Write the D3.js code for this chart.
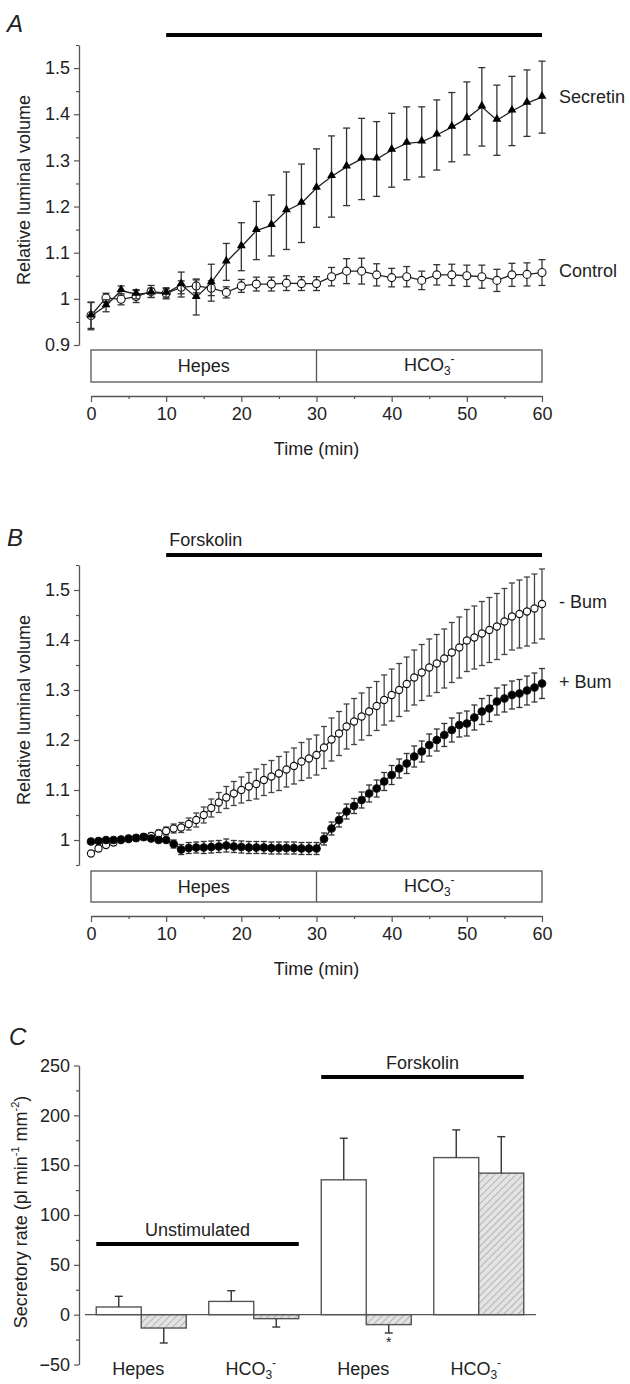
<!DOCTYPE html>
<html>
<head>
<meta charset="utf-8">
<script src="https://cdn.jsdelivr.net/npm/d3@7"></script>
<style>
    body { margin: 0; background: #fff; }
    svg { font-family: Arial, "Liberation Sans", sans-serif; }
</style>
</head>
<body>
<svg id="mainSvg" width="630" height="1384"></svg>
<script>
// * Panel A: secretin vs control, sampled every 2 min
let timeA = [0, 2, 4, 6, 8, 10, 12, 14, 16, 18, 20, 22, 24, 26, 28, 30,
    32, 34, 36, 38, 40, 42, 44, 46, 48, 50, 52, 54, 56, 58, 60]
let secretin = [0.963, 0.985, 1.018, 1.010, 1.013, 1.012, 1.031, 1.003, 1.035, 1.080, 1.113, 1.148, 1.159, 1.191, 1.207, 1.240,
    1.265, 1.286, 1.303, 1.303, 1.322, 1.337, 1.340, 1.355, 1.372, 1.391, 1.416, 1.387, 1.407, 1.424, 1.437]
let secretinErr = [0.030, 0.013, 0.010, 0.010, 0.010, 0.010, 0.027, 0.038, 0.040, 0.040, 0.052, 0.063, 0.066, 0.084, 0.085, 0.085,
    0.088, 0.084, 0.088, 0.081, 0.080, 0.079, 0.076, 0.076, 0.075, 0.079, 0.085, 0.076, 0.075, 0.072, 0.078]
let control = [0.964, 1.002, 0.999, 1.005, 1.016, 1.012, 1.025, 1.028, 1.023, 1.014, 1.028, 1.032, 1.032, 1.034, 1.033, 1.033,
    1.048, 1.060, 1.060, 1.052, 1.046, 1.048, 1.040, 1.052, 1.052, 1.050, 1.048, 1.040, 1.052, 1.053, 1.057]
let controlErr = [0.028, 0.010, 0.012, 0.013, 0.013, 0.012, 0.014, 0.015, 0.016, 0.012, 0.014, 0.015, 0.015, 0.016, 0.015, 0.015,
    0.020, 0.027, 0.028, 0.024, 0.020, 0.022, 0.020, 0.022, 0.023, 0.023, 0.025, 0.024, 0.025, 0.025, 0.028]

// * Panel B: forskolin without / with bumetanide, sampled every min
let timeB = [0, 1, 2, 3, 4, 5, 6, 7, 8, 9, 10, 11, 12, 13, 14, 15, 16, 17, 18, 19, 20,
    21, 22, 23, 24, 25, 26, 27, 28, 29, 30, 31, 32, 33, 34, 35, 36, 37, 38, 39, 40,
    41, 42, 43, 44, 45, 46, 47, 48, 49, 50, 51, 52, 53, 54, 55, 56, 57, 58, 59, 60]
let minusBum = [0.973, 0.983, 0.990, 0.995, 1.000, 1.002, 1.004, 1.006, 1.008, 1.013, 1.018,
    1.023, 1.025, 1.032, 1.040, 1.050, 1.064, 1.075, 1.085, 1.093, 1.100,
    1.107, 1.112, 1.120, 1.127, 1.133, 1.141, 1.148, 1.157, 1.163, 1.170,
    1.185, 1.201, 1.213, 1.227, 1.237, 1.247, 1.257, 1.268, 1.280, 1.290,
    1.300, 1.312, 1.325, 1.335, 1.345, 1.353, 1.363, 1.375, 1.385, 1.399,
    1.405, 1.413, 1.420, 1.427, 1.437, 1.447, 1.452, 1.457, 1.463, 1.472]
let minusBumErr = [0.005, 0.005, 0.005, 0.005, 0.005, 0.005, 0.006, 0.006, 0.006, 0.007, 0.008,
    0.009, 0.010, 0.012, 0.014, 0.016, 0.018, 0.020, 0.022, 0.024, 0.026,
    0.028, 0.030, 0.031, 0.032, 0.034, 0.035, 0.036, 0.038, 0.039, 0.040,
    0.042, 0.043, 0.044, 0.045, 0.046, 0.047, 0.048, 0.049, 0.050, 0.052,
    0.053, 0.054, 0.055, 0.056, 0.057, 0.058, 0.059, 0.060, 0.061, 0.062,
    0.063, 0.064, 0.065, 0.066, 0.066, 0.067, 0.068, 0.069, 0.069, 0.070]
let plusBum = [0.997, 0.998, 1.000, 1.000, 1.001, 1.003, 1.004, 1.006, 1.003, 1.000, 1.000,
    0.992, 0.981, 0.984, 0.985, 0.985, 0.986, 0.987, 0.989, 0.987, 0.986,
    0.985, 0.985, 0.985, 0.984, 0.984, 0.984, 0.984, 0.983, 0.983, 0.983,
    1.002, 1.023, 1.040, 1.057, 1.068, 1.080, 1.093, 1.103, 1.117, 1.130,
    1.143, 1.153, 1.167, 1.177, 1.190, 1.200, 1.210, 1.220, 1.230, 1.233,
    1.245, 1.257, 1.263, 1.277, 1.283, 1.290, 1.293, 1.299, 1.305, 1.313]
let plusBumErr = [0.004, 0.004, 0.004, 0.004, 0.004, 0.004, 0.004, 0.004, 0.004, 0.004, 0.005,
    0.008, 0.010, 0.011, 0.011, 0.012, 0.012, 0.012, 0.013, 0.012, 0.012,
    0.012, 0.012, 0.012, 0.012, 0.012, 0.012, 0.012, 0.012, 0.012, 0.012,
    0.012, 0.013, 0.014, 0.015, 0.015, 0.016, 0.017, 0.017, 0.018, 0.019,
    0.019, 0.020, 0.021, 0.021, 0.022, 0.022, 0.023, 0.024, 0.024, 0.025,
    0.025, 0.026, 0.026, 0.027, 0.027, 0.028, 0.028, 0.029, 0.029, 0.030]

// * Panel C: secretory rates
let groupsC = ['Hepes', 'HCO3', 'Hepes', 'HCO3']
let openC = [7.7, 13.3, 135.3, 157.6]
let openCErr = [10.7, 10.7, 41.7, 27.8]
let hatchC = [-13.4, -4.0, -10.0, 142.0]
let hatchCErr = [15.0, 8.4, 8.4, 36.6]
let starC = ['', '', '*', '']

let xTicks = [0, 10, 20, 30, 40, 50, 60]
let xMinor = [5, 15, 25, 35, 45, 55]

let svg = d3.select('#mainSvg')
let defs = svg.append('defs')

let axisColor = '#555'
let ink = '#222'
let fontSize = 18

// hatch pattern for the bumetanide bars
let pat = defs.append('pattern')
    .attr('id', 'hatch')
    .attr('patternUnits', 'userSpaceOnUse')
    .attr('width', 5)
    .attr('height', 5)
    .attr('patternTransform', 'rotate(45)')
pat.append('rect').attr('width', 5).attr('height', 5).attr('fill', '#e3e3e3')
pat.append('line')
    .attr('x1', 0).attr('y1', 0).attr('x2', 0).attr('y2', 5)
    .attr('stroke', '#a0a0a0').attr('stroke-width', 1.4)

let styleAxis = function (g) {
    g.attr('font-size', fontSize).attr('font-family', null)
    g.select('.domain').attr('stroke', axisColor).attr('stroke-width', 1.3)
    g.selectAll('.tick line').attr('stroke', axisColor).attr('stroke-width', 1.2)
    g.selectAll('.tick text').attr('fill', ink)
}

let hco3 = function (t) {
    t.append('tspan').text('HCO')
    t.append('tspan').attr('font-size', 12).attr('dy', 4).text('3')
    t.append('tspan').attr('font-size', 12).attr('dy', -12).text('-')
}

let drawSeries = function (g, x, y, times, vals, errs, opt) {
    let pts = times.map(function (t, i) { return { t: t, v: vals[i], e: errs[i] } })
    let eb = g.append('g').attr('stroke', opt.errColor).attr('stroke-width', 1.3)
    eb.selectAll('line.bar').data(pts).enter().append('line')
        .attr('x1', d => x(d.t)).attr('x2', d => x(d.t))
        .attr('y1', d => y(d.v - d.e)).attr('y2', d => y(d.v + d.e))
    eb.selectAll('line.capTop').data(pts).enter().append('line')
        .attr('x1', d => x(d.t) - opt.cap).attr('x2', d => x(d.t) + opt.cap)
        .attr('y1', d => y(d.v + d.e)).attr('y2', d => y(d.v + d.e))
    eb.selectAll('line.capBot').data(pts).enter().append('line')
        .attr('x1', d => x(d.t) - opt.cap).attr('x2', d => x(d.t) + opt.cap)
        .attr('y1', d => y(d.v - d.e)).attr('y2', d => y(d.v - d.e))

    g.append('path')
        .datum(pts)
        .attr('d', d3.line().x(d => x(d.t)).y(d => y(d.v)))
        .attr('fill', 'none')
        .attr('stroke', ink)
        .attr('stroke-width', 1.3)

    if (opt.shape === 'triangle') {
        g.append('g').selectAll('path').data(pts).enter().append('path')
            .attr('d', d3.symbol(d3.symbolTriangle, 34))
            .attr('transform', d => 'translate(' + x(d.t) + ',' + (y(d.v) - 1) + ')')
            .attr('fill', '#000')
    } else {
        g.append('g').selectAll('circle').data(pts).enter().append('circle')
            .attr('cx', d => x(d.t)).attr('cy', d => y(d.v))
            .attr('r', opt.r)
            .attr('fill', opt.fill)
            .attr('stroke', '#111')
            .attr('stroke-width', 1.1)
    }
}

let drawTimePanel = function (p) {
    let x = d3.scaleLinear().domain([0, 60]).range([91, 542])
    let y = d3.scaleLinear().domain(p.yDomain).range([p.yBottom, p.yTop])
    let g = svg.append('g')

    g.append('text')
        .attr('x', 7).attr('y', p.letterY)
        .attr('font-size', 24).attr('font-style', 'italic').attr('fill', ink)
        .text(p.letter)

    // treatment bar
    g.append('line')
        .attr('x1', x(10)).attr('x2', x(60))
        .attr('y1', p.barY).attr('y2', p.barY)
        .attr('stroke', '#000').attr('stroke-width', 4)
    if (p.barLabel) {
        g.append('text')
            .attr('x', x(10) + 3).attr('y', p.barY - 9)
            .attr('font-size', fontSize).attr('fill', ink)
            .text(p.barLabel)
    }

    // y axis, major + minor ticks
    g.append('g').attr('transform', 'translate(79,0)')
        .call(d3.axisLeft(y).tickValues(p.yTicks).tickFormat(d3.format('~g'))
            .tickSize(5).tickSizeOuter(0).tickPadding(4))
        .call(styleAxis)
    g.append('g').attr('transform', 'translate(79,0)')
        .call(d3.axisLeft(y).tickValues(p.yMinor).tickFormat('').tickSize(3).tickSizeOuter(0))
        .call(styleAxis)
        .call(a => a.select('.domain').remove())

    g.append('text')
        .attr('transform', 'translate(24,' + ((p.yTop + p.yBottom) / 2 - 5) + ') rotate(-90)')
        .attr('text-anchor', 'middle').attr('dominant-baseline', 'central')
        .attr('font-size', fontSize).attr('fill', ink)
        .text('Relative luminal volume')

    // bath solution box
    let box = g.append('g')
    box.append('rect')
        .attr('x', x(0)).attr('y', p.boxTop)
        .attr('width', x(60) - x(0)).attr('height', p.boxH)
        .attr('fill', '#fff').attr('stroke', axisColor).attr('stroke-width', 1.3)
    box.append('line')
        .attr('x1', x(30)).attr('x2', x(30))
        .attr('y1', p.boxTop).attr('y2', p.boxTop + p.boxH)
        .attr('stroke', axisColor).attr('stroke-width', 1.3)
    box.append('text')
        .attr('x', (x(0) + x(30)) / 2).attr('y', p.boxTop + p.boxH / 2 + 6)
        .attr('text-anchor', 'middle').attr('font-size', fontSize).attr('fill', ink)
        .text('Hepes')
    box.append('text')
        .attr('x', (x(30) + x(60)) / 2).attr('y', p.boxTop + p.boxH / 2 + 5)
        .attr('text-anchor', 'middle').attr('font-size', fontSize).attr('fill', ink)
        .call(hco3)

    // x axis
    g.append('g').attr('transform', 'translate(0,' + p.xAxisY + ')')
        .call(d3.axisBottom(x).tickValues(xTicks).tickSize(6).tickSizeOuter(0).tickPadding(5))
        .call(styleAxis)
    g.append('g').attr('transform', 'translate(0,' + p.xAxisY + ')')
        .call(d3.axisBottom(x).tickValues(xMinor).tickFormat('').tickSize(3).tickSizeOuter(0))
        .call(styleAxis)
        .call(a => a.select('.domain').remove())
    g.append('text')
        .attr('x', (x(0) + x(60)) / 2).attr('y', p.xAxisY + 59)
        .attr('text-anchor', 'middle').attr('font-size', fontSize).attr('fill', ink)
        .text('Time (min)')

    p.series.forEach(function (s) {
        drawSeries(g, x, y, s.times, s.vals, s.errs, s.opt)
    })
    p.labels.forEach(function (l) {
        g.append('text')
            .attr('x', 559).attr('y', l.y)
            .attr('font-size', fontSize).attr('fill', ink)
            .text(l.text)
    })
}

drawTimePanel({
    letter: 'A', letterY: 32,
    barY: 35, barLabel: null,
    yDomain: [0.9, 1.55], yTop: 45, yBottom: 345,
    yTicks: [0.9, 1.0, 1.1, 1.2, 1.3, 1.4, 1.5],
    yMinor: [0.95, 1.05, 1.15, 1.25, 1.35, 1.45, 1.55],
    boxTop: 350, boxH: 32, xAxisY: 396,
    series: [
        { times: timeA, vals: control, errs: controlErr, opt: { errColor: '#333', cap: 3.5, shape: 'circle', r: 4, fill: '#fff' } },
        { times: timeA, vals: secretin, errs: secretinErr, opt: { errColor: '#333', cap: 3.5, shape: 'triangle' } }
    ],
    labels: [{ text: 'Secretin', y: 103 }, { text: 'Control', y: 277 }]
})

drawTimePanel({
    letter: 'B', letterY: 546,
    barY: 555, barLabel: 'Forskolin',
    yDomain: [0.95, 1.55], yTop: 565, yBottom: 865,
    yTicks: [1.0, 1.1, 1.2, 1.3, 1.4, 1.5],
    yMinor: [0.95, 1.05, 1.15, 1.25, 1.35, 1.45, 1.55],
    boxTop: 871, boxH: 31, xAxisY: 916,
    series: [
        { times: timeB, vals: minusBum, errs: minusBumErr, opt: { errColor: '#444', cap: 3, shape: 'circle', r: 3.6, fill: '#fff' } },
        { times: timeB, vals: plusBum, errs: plusBumErr, opt: { errColor: '#333', cap: 3, shape: 'circle', r: 3.8, fill: '#000' } }
    ],
    labels: [{ text: '- Bum', y: 608 }, { text: '+ Bum', y: 688 }]
})

// * Panel C: bar chart
let gC = svg.append('g')
let xC = d3.scaleBand().domain(d3.range(groupsC.length)).range([85, 535]).paddingInner(0.2).paddingOuter(0.1)
let subC = d3.scaleBand().domain(['open', 'hatch']).range([0, xC.bandwidth()])
let yC = d3.scaleLinear().domain([-50, 250]).range([1364.5, 1065.5])

gC.append('text')
    .attr('x', 9).attr('y', 1045)
    .attr('font-size', 24).attr('font-style', 'italic').attr('fill', ink)
    .text('C')

gC.append('g').attr('transform', 'translate(79,0)')
    .call(d3.axisLeft(yC).tickValues([-50, 0, 50, 100, 150, 200, 250]).tickSize(5).tickSizeOuter(0).tickPadding(4))
    .call(styleAxis)
gC.append('g').attr('transform', 'translate(79,0)')
    .call(d3.axisLeft(yC).tickValues([-25, 25, 75, 125, 175, 225]).tickFormat('').tickSize(3).tickSizeOuter(0))
    .call(styleAxis)
    .call(a => a.select('.domain').remove())

let yLabC = gC.append('text')
    .attr('transform', 'translate(21,1212) rotate(-90)')
    .attr('text-anchor', 'middle').attr('dominant-baseline', 'central')
    .attr('font-size', fontSize).attr('fill', ink)
yLabC.append('tspan').text('Secretory rate (pl min')
yLabC.append('tspan').attr('font-size', 11).attr('dy', -6).text('-1')
yLabC.append('tspan').attr('dy', 6).text(' mm')
yLabC.append('tspan').attr('font-size', 11).attr('dy', -6).text('-2')
yLabC.append('tspan').attr('dy', 6).text(')')

let barsC = []
groupsC.forEach(function (name, i) {
    barsC.push({ i: i, kind: 'open', v: openC[i], e: openCErr[i], star: '' })
    barsC.push({ i: i, kind: 'hatch', v: hatchC[i], e: hatchCErr[i], star: starC[i] })
})
let bx = d => xC(d.i) + subC(d.kind)
let tipY = d => d.v >= 0 ? yC(d.v + d.e) : yC(d.v - d.e)

gC.append('g').selectAll('rect').data(barsC).enter().append('rect')
    .attr('x', bx)
    .attr('y', d => yC(Math.max(0, d.v)))
    .attr('width', subC.bandwidth())
    .attr('height', d => Math.abs(yC(d.v) - yC(0)))
    .attr('fill', d => d.kind === 'open' ? '#fff' : 'url(#hatch)')
    .attr('stroke', axisColor)
    .attr('stroke-width', 1.4)

let ebC = gC.append('g').attr('stroke', '#333').attr('stroke-width', 1.4)
ebC.selectAll('line.bar').data(barsC).enter().append('line')
    .attr('x1', d => bx(d) + subC.bandwidth() / 2).attr('x2', d => bx(d) + subC.bandwidth() / 2)
    .attr('y1', d => yC(d.v)).attr('y2', tipY)
ebC.selectAll('line.cap').data(barsC).enter().append('line')
    .attr('x1', d => bx(d) + subC.bandwidth() / 2 - 4).attr('x2', d => bx(d) + subC.bandwidth() / 2 + 4)
    .attr('y1', tipY).attr('y2', tipY)

gC.append('g').selectAll('text').data(barsC.filter(d => d.star)).enter().append('text')
    .attr('x', d => bx(d) + subC.bandwidth() / 2).attr('y', d => tipY(d) + 14)
    .attr('text-anchor', 'middle').attr('font-size', 14).attr('fill', ink)
    .text(d => d.star)

// zero line
gC.append('line')
    .attr('x1', 85).attr('x2', 536)
    .attr('y1', yC(0)).attr('y2', yC(0))
    .attr('stroke', axisColor).attr('stroke-width', 1.3)

// category labels
gC.append('g').selectAll('text').data(groupsC).enter().append('text')
    .attr('x', (d, i) => xC(i) + xC.bandwidth() / 2 - 3)
    .attr('y', 1375)
    .attr('text-anchor', 'middle').attr('font-size', fontSize).attr('fill', ink)
    .each(function (d) {
        if (d === 'HCO3') { d3.select(this).call(hco3) } else { d3.select(this).text(d) }
    })

// treatment brackets
let bracketC = [
    { label: 'Unstimulated', from: 0, to: 1, level: 71 },
    { label: 'Forskolin', from: 2, to: 3, level: 238.5 }
]
bracketC.forEach(function (b) {
    let x1 = xC(b.from), x2 = xC(b.to) + xC.bandwidth()
    gC.append('line')
        .attr('x1', x1).attr('x2', x2)
        .attr('y1', yC(b.level)).attr('y2', yC(b.level))
        .attr('stroke', '#000').attr('stroke-width', 4)
    gC.append('text')
        .attr('x', (x1 + x2) / 2).attr('y', yC(b.level) - 8)
        .attr('text-anchor', 'middle').attr('font-size', fontSize).attr('fill', ink)
        .text(b.label)
})
</script>
</body>
</html>
